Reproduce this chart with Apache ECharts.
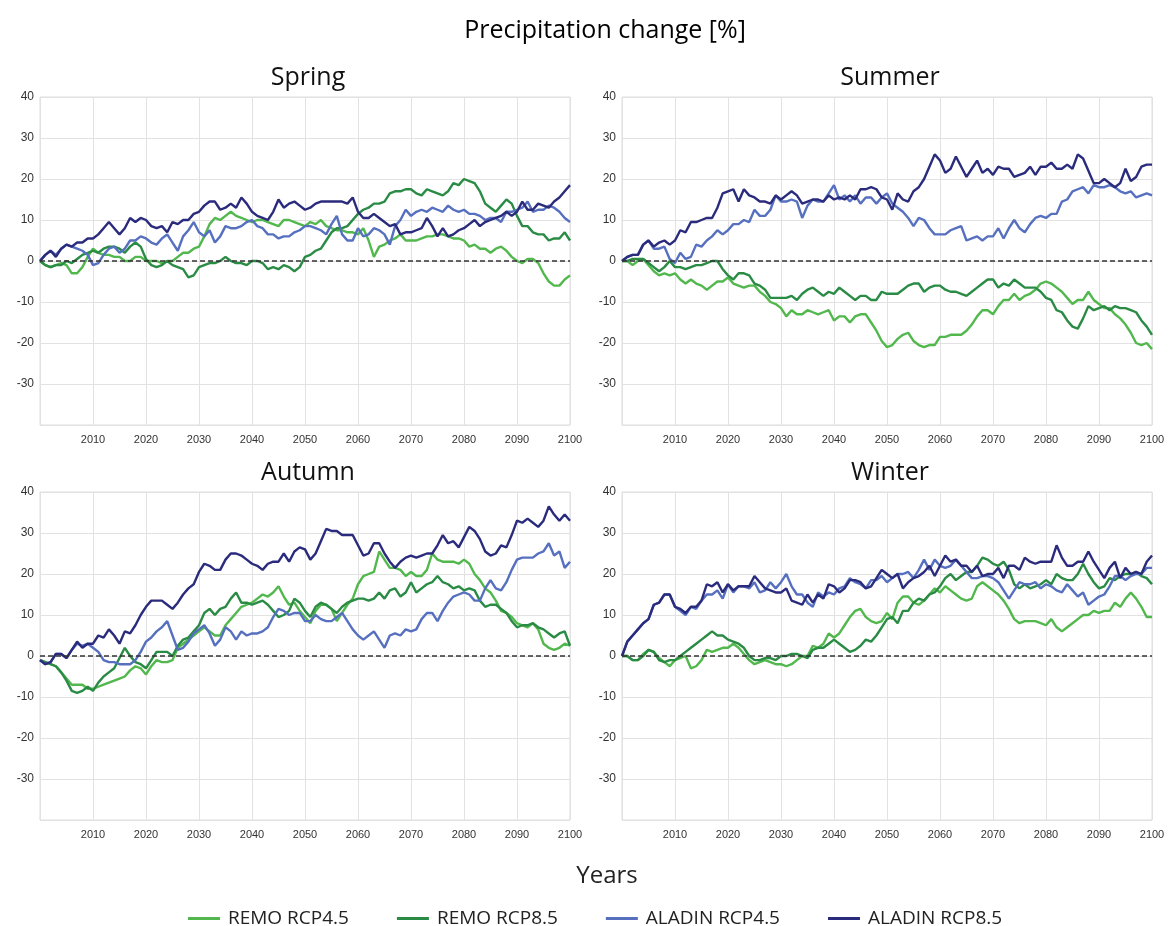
<!DOCTYPE html>
<html>
<head>
<meta charset="utf-8">
<script src="https://cdn.jsdelivr.net/npm/echarts@6/dist/echarts.min.js"></script>
<style>
  html, body { margin: 0; padding: 0; background: #fff; }
  #chart { width: 1169px; height: 926px; }
</style>
</head>
<body>
<div id="chart"></div>
<script>
// years 2000..2100, one value per year
var years = [];
for (var y = 2000; y <= 2100; y++) years.push(y);

var seriesNames = ['REMO RCP4.5', 'REMO RCP8.5', 'ALADIN RCP4.5', 'ALADIN RCP8.5'];
var seasonNames = ['Spring', 'Summer', 'Autumn', 'Winter'];
var xTicks = [2010, 2020, 2030, 2040, 2050, 2060, 2070, 2080, 2090, 2100];
var yTicks = [-30, -20, -10, 0, 10, 20, 30, 40];

// Spring
var springRemo45 = [0, -1, -1.5, -1, -0.5, -1, -3, -3, -1.5, 1,
  3, 2, 1.5, 1.5, 1, 1, 0, 0, 1, 1,
  0, 0, 0, -0.5, 0, 0, 1, 2, 2, 3,
  3.5, 6, 9, 10.5, 10, 11, 12, 11, 10.5, 10,
  9.5, 10, 10, 9.5, 9, 8.5, 10, 10, 9.5, 9,
  8.5, 9.5, 9, 10, 8.5, 8, 7.5, 7.5, 7, 7,
  6.5, 8, 5, 1, 3.5, 4, 5, 5.5, 6.5, 5,
  5, 5, 5.5, 6, 6, 6.5, 6.5, 6, 5.5, 5.5,
  5, 3.5, 4, 3, 3, 2, 3, 3.5, 2.5, 1,
  0, -0.5, 0.5, 0.5, -0.5, -3, -5, -6, -6, -4.5,
  -3.5];
var springRemo85 = [0, -1, -1.5, -1, -1, 0, -0.5, 0.5, 1.5, 2,
  2.5, 2, 3, 3.5, 3.5, 3, 2, 3.5, 4.5, 3.5,
  0.5, -1, -1.5, -1, 0, -1, -1.5, -2, -4, -3.5,
  -1.5, -1, -0.5, -0.5, 0, 1, 0, -0.5, -0.5, -1,
  0, 0, -0.5, -2, -1.5, -2, -1, -1.5, -2.5, -1.5,
  1, 1.5, 2.5, 3, 5, 7, 8, 8, 8.5, 10,
  11.5, 12.5, 13, 14, 14, 14.5, 16.5, 17, 17, 17.5,
  17.5, 16.5, 16, 17.5, 17, 16.5, 16, 17, 19, 18.5,
  20, 19.5, 19, 17, 14, 13, 12, 13.5, 15, 14,
  11, 8.5, 8.5, 7, 6.5, 6.5, 5, 5.5, 5.5, 7,
  5];
var springAladin45 = [0, 1.5, 2.5, 1.5, 3, 4, 3.5, 3, 2.5, 1.5,
  -1, -0.5, 1.5, 3, 3.5, 2, 3, 5, 5, 6,
  5.5, 4.5, 4, 5.5, 6.5, 4.5, 2.5, 6, 7.5, 9.5,
  7, 6, 7.5, 4.5, 6, 8.5, 8, 8, 8.5, 9.5,
  10, 8.5, 8, 6.5, 6.5, 5.5, 6, 6, 7, 7.5,
  8.5, 8.5, 8, 7.5, 6.5, 9, 11, 6.5, 5, 5,
  8, 6, 6.5, 8, 7.5, 6.5, 4, 8.5, 10, 12.5,
  11, 12, 12.5, 12, 13, 12.5, 12, 13.5, 12.5, 12,
  12.5, 11.5, 11.5, 11, 10, 10.5, 10.5, 9.5, 12, 12,
  12.5, 13, 14.5, 12, 12.5, 12.5, 13.5, 13, 12, 10.5,
  9.5];
var springAladin85 = [0, 1.5, 2.5, 1, 3, 4, 3.5, 4.5, 4.5, 5.5,
  5.5, 6.5, 8, 9.5, 8, 6.5, 8, 10.5, 9.5, 10.5,
  10, 8.5, 8, 8.5, 7, 9.5, 9, 10, 10, 11.5,
  12, 13.5, 14.5, 14.5, 12.5, 13, 14, 13, 15.5, 14,
  12, 11, 10.5, 10, 12, 15, 13, 14, 14.5, 13.5,
  12.5, 13, 14, 14.5, 14.5, 14.5, 14.5, 14.5, 14, 15.5,
  12, 10.5, 10.5, 11.5, 10.5, 9.5, 8.5, 9, 6.5, 7,
  7, 7.5, 8, 10.5, 8.5, 6, 8, 6, 6.5, 7.5,
  8, 9, 10, 8.5, 9.5, 10, 10.5, 11, 12, 11,
  12, 14.5, 12.5, 12.5, 14, 13.5, 13, 14.5, 15.5, 17,
  18.5];

// Summer
var summerRemo45 = [0, 0, -1, 0, 0.5, -1, -2.5, -3.5, -3, -3.5,
  -3, -4.5, -5.5, -4.5, -5.5, -6, -7, -6, -5, -5,
  -4, -5.5, -6, -6.5, -6, -6, -7.5, -8.5, -10, -10.5,
  -11.5, -13.5, -12, -13, -13, -12, -12.5, -13, -12.5, -12,
  -14.5, -13.5, -13.5, -15, -13.5, -13, -13, -15, -17, -19.5,
  -21, -20.5, -19, -18, -17.5, -19.5, -20.5, -21, -20.5, -20.5,
  -18.5, -18.5, -18, -18, -18, -17, -15.5, -13.5, -12, -12,
  -13, -11, -9.5, -9.5, -8, -9.5, -8.5, -8, -7, -5.5,
  -5, -5.5, -6.5, -7.5, -9, -10.5, -9.5, -9.5, -7.5, -9.5,
  -10.5, -11.5, -11.5, -13, -14, -15.5, -17.5, -20, -20.5, -20,
  -21.5];
var summerRemo85 = [0, 0, 0.5, 0.5, 0.5, -0.5, -1.5, -2.5, -1.5, 0,
  -1.5, -1.5, -2, -1.5, -1, -1, -0.5, 0, 0, -2,
  -3.5, -4.5, -3, -3, -3.5, -5.5, -6, -7, -9, -9,
  -9, -9, -8.5, -9.5, -8, -7, -6.5, -7.5, -8.5, -7.5,
  -8, -6.5, -7.5, -8.5, -9.5, -8.5, -8.5, -9.5, -9.5, -7.5,
  -8, -8, -8, -7, -6, -5.5, -5.5, -7.5, -6.5, -6,
  -6, -7, -7.5, -7.5, -8, -8.5, -7.5, -6.5, -5.5, -4.5,
  -4.5, -6.5, -5.5, -6, -4.5, -5.5, -6.5, -6.5, -6.5, -7.5,
  -9, -9.5, -12, -12.5, -14.5, -16, -16.5, -14, -11, -12,
  -11.5, -11, -12, -11, -11.5, -11.5, -12, -12.5, -14.5, -16,
  -18];
var summerAladin45 = [0, 1, 1.5, 1.5, 4, 5, 3, 3, 3.5, 0.5,
  -0.5, 2, 0.5, 1, 4, 3.5, 5, 6, 7.5, 6.5,
  7.5, 9, 9, 10, 9.5, 12.5, 11, 11, 12.5, 16,
  14.5, 14.5, 15, 14.5, 10.5, 13.5, 15, 14.5, 14.5, 16.5,
  18.5, 15, 16, 14.5, 16, 14, 15.5, 15.5, 14, 15.5,
  16.5, 14, 13, 12, 10.5, 8.5, 10.5, 10, 8, 6.5,
  6.5, 6.5, 7.5, 8, 8.5, 5, 5.5, 6, 5, 6,
  6, 8, 5.5, 8, 10, 8, 7, 9, 10.5, 11,
  10.5, 11.5, 11.5, 14.5, 15, 17, 17.5, 18, 16.5, 18.5,
  18, 18, 18.5, 18, 17, 16.5, 17, 15.5, 16, 16.5,
  16];
var summerAladin85 = [0, 1, 1.5, 1.5, 4, 5, 3.5, 4.5, 5, 4,
  5, 7.5, 7, 9.5, 9.5, 10, 10.5, 10.5, 13, 16.5,
  17, 17.5, 14.5, 17.5, 16, 15.5, 14.5, 14.5, 14, 16,
  15, 16, 17, 16, 14, 14.5, 15, 15, 14.5, 16,
  15, 15.5, 15, 16, 15, 17.5, 17.5, 18, 17.5, 15.5,
  15, 12.5, 16.5, 15, 14.5, 17, 18, 20, 23, 26,
  24.5, 21.5, 22.5, 25.5, 23, 20.5, 22.5, 24.5, 21.5, 22.5,
  21, 23, 22.5, 22.5, 20.5, 21, 21.5, 23, 21, 23,
  23, 24, 22.5, 22.5, 23.5, 22.5, 26, 25, 22, 19,
  19, 20, 19, 18, 19, 22.5, 19.5, 20.5, 23, 23.5,
  23.5];

// Autumn
var autumnRemo45 = [-1, -1.5, -2, -2.5, -4, -5.5, -7, -7, -7, -8,
  -8, -7.5, -7, -6.5, -6, -5.5, -5, -3.5, -2.5, -3,
  -4.5, -2.5, -1, -1.5, -1.5, -1, 2, 3, 4, 5,
  6, 7, 6, 5, 5, 7.5, 9, 10.5, 12, 12.5,
  13, 14, 15, 14.5, 15.5, 17, 14.5, 12.5, 13, 11,
  9.5, 8, 11, 12.5, 12.5, 11.5, 8.5, 10.5, 12.5, 14,
  17.5, 19.5, 20, 20.5, 25.5, 23.5, 21.5, 21.5, 21, 19.5,
  20.5, 19.5, 19.5, 21, 25, 23.5, 23, 23, 23, 22.5,
  23.5, 22.5, 20, 18.5, 16.5, 15.5, 13.5, 11, 10.5, 9.5,
  8, 7.5, 7, 8, 6.5, 3, 2, 1.5, 2, 3,
  2.5];
var autumnRemo85 = [-1, -1.5, -2, -2.5, -4, -6, -8.5, -9, -8.5, -7.5,
  -8.5, -6.5, -5, -4, -3, -0.5, 2, 0, -1.5, -2,
  -3, -1, 1, 1, 1, 0, 2.5, 4, 4.5, 6,
  7.5, 10.5, 11.5, 10, 11.5, 12, 14, 15.5, 13, 13,
  12.5, 13, 13.5, 12.5, 11, 9.5, 10, 11, 14, 13,
  11, 9.5, 12, 13, 12.5, 11.5, 10.5, 12, 13, 13.5,
  14, 14, 13.5, 14, 15.5, 14, 16, 16.5, 14.5, 15.5,
  18, 15.5, 16.5, 17.5, 18, 19.5, 18, 17.5, 16.5, 17,
  16, 16.5, 16, 13.5, 12, 12.5, 12.5, 11.5, 10.5, 8.5,
  7, 7.5, 7.5, 8, 7, 6.5, 5.5, 4.5, 5.5, 6,
  2.5];
var autumnAladin45 = [-1, -2, -1.5, 0.5, 0.5, -0.5, 1.5, 3, 2.5, 3,
  2, 1, -1, -1.5, -1.5, -2, -2, -2, -1, 1,
  3.5, 4.5, 6, 7, 8.5, 5, 1.5, 2, 3.5, 5.5,
  6.5, 7.5, 5.5, 2.5, 4, 7, 6, 4, 6, 5,
  5.5, 5.5, 6, 7, 9.5, 11.5, 11, 10, 10.5, 10.5,
  8.5, 8.5, 10, 9, 8.5, 8.5, 9.5, 10.5, 8.5, 6.5,
  5, 4, 5, 6, 4, 2, 5, 5.5, 5, 6.5,
  6, 6.5, 9, 10.5, 10.5, 8.5, 11, 13, 14.5, 15,
  15.5, 15, 13.5, 13.5, 16.5, 18.5, 16.5, 16, 18, 21,
  23.5, 24, 24, 24, 25, 25.5, 27.5, 24.5, 25.5, 21.5,
  23];
var autumnAladin85 = [-1, -2, -1.5, 0.5, 0.5, -0.5, 1.5, 3.5, 2, 3,
  3, 5, 4.5, 6.5, 5, 3, 6, 5.5, 7.5, 10,
  12, 13.5, 13.5, 13.5, 12.5, 11.5, 13, 15, 16.5, 17.5,
  20.5, 22.5, 22, 21, 21, 23.5, 25, 25, 24.5, 23.5,
  22.5, 22, 21, 22.5, 23, 23, 25, 23, 25.5, 26.5,
  26, 23.5, 25, 28, 31, 30.5, 30.5, 29.5, 29.5, 29.5,
  27, 24.5, 25, 27.5, 27.5, 25, 23, 21.5, 23, 24,
  24.5, 24, 24.5, 25, 25, 27, 29.5, 27.5, 28, 26.5,
  29, 31.5, 30.5, 28.5, 25.5, 24.5, 25, 27, 26.5, 29.5,
  33, 32.5, 33.5, 32.5, 31.5, 33, 36.5, 34.5, 33, 34.5,
  33];

// Winter
var winterRemo45 = [0, 0, -1, -1, 0.5, 1.5, 1, -0.5, -1.5, -2.5,
  -1, -0.5, 0, -3, -2.5, -1, 1.5, 1, 1.5, 2,
  2, 3, 2, 0.5, -1, -2, -1.5, -1, -1.5, -2,
  -2, -2.5, -2, -1, 0, 0, 2.5, 2, 3, 5.5,
  4.5, 5.5, 7.5, 9.5, 11, 11.5, 9.5, 8.5, 8, 8.5,
  10.5, 9, 13, 14.5, 14.5, 13, 12.5, 13.5, 15, 16.5,
  15.5, 17, 16, 15, 14, 13.5, 14, 17, 18, 17,
  16, 15, 13.5, 11.5, 9, 8, 8.5, 8.5, 8.5, 8,
  7.5, 9, 7, 6, 7, 8, 9, 10, 10, 11,
  10.5, 11, 11, 13, 12, 14, 15.5, 14, 12, 9.5,
  9.5];
var winterRemo85 = [0, 0, -1, -1, 0, 1.5, 1, -1, -1.5, -1,
  -1, 0, 1, 2, 3, 4, 5, 6, 5, 5,
  4, 3.5, 3, 2, 0, -1, -1, -0.5, -0.5, -1,
  0, 0, 0.5, 0.5, 0, -0.5, 1.5, 2, 2, 3,
  4, 3, 2, 1, 1.5, 2.5, 4, 3.5, 5, 7,
  9, 9.5, 8, 11, 11, 13, 14, 13.5, 15, 15.5,
  17, 19, 20, 18.5, 19.5, 20.5, 20.5, 22, 24, 23.5,
  22.5, 22, 23, 21, 17.5, 16.5, 17.5, 16.5, 17, 17.5,
  18.5, 17.5, 20, 19, 18.5, 18.5, 20, 22.5, 20, 18,
  16.5, 17, 19, 18.5, 19.5, 20, 20, 20.5, 19.5, 19,
  17.5];
var winterAladin45 = [0, 3.5, 5, 6.5, 8, 9, 12.5, 13, 15, 15,
  12, 11, 10, 12, 11.5, 13.5, 15, 15, 16, 14,
  17.5, 15.5, 17, 17, 16.5, 18, 15.5, 16, 18, 16.5,
  18, 20, 17, 15, 15, 13, 12, 15.5, 14.5, 15.5,
  15, 16.5, 17, 19, 18, 17.5, 16.5, 18.5, 18.5, 19.5,
  18, 19, 20, 20, 20.5, 19, 21, 23.5, 21, 23.5,
  22, 21.5, 22, 23.5, 22, 20.5, 19, 19, 19.5, 19.5,
  19, 18, 16, 14, 16, 18, 17.5, 17.5, 18, 16.5,
  17.5, 17, 16, 15.5, 17.5, 16, 14.5, 15.5, 12.5, 13.5,
  14.5, 15, 17, 19.5, 19.5, 18.5, 19.5, 20, 20, 21.5,
  21.5];
var winterAladin85 = [0, 3.5, 5, 6.5, 8, 9, 12.5, 13, 15, 15,
  12, 11.5, 10.5, 12, 12, 13.5, 17.5, 17, 18, 15.5,
  17.5, 16, 17, 17, 17, 19.5, 18, 16.5, 16, 15.5,
  15.5, 16.5, 13.5, 13, 12.5, 15, 13, 15, 14, 17.5,
  17, 15.5, 16.5, 18.5, 18.5, 18, 16.5, 17, 19, 21,
  20, 19, 20, 16.5, 18, 19, 19.5, 20.5, 22, 19.5,
  22, 24.5, 23, 23.5, 22, 22, 20.5, 22, 19.5, 20,
  20, 21.5, 19, 22, 22, 21, 24, 23, 22.5, 23,
  23, 23, 27, 24, 22, 22, 23, 23, 25.5, 23,
  21, 19, 21.5, 23, 19, 21.5, 20, 20.5, 20, 23,
  24.5];

var seasonData = [
  [springRemo45, springRemo85, springAladin45, springAladin85],
  [summerRemo45, summerRemo85, summerAladin45, summerAladin85],
  [autumnRemo45, autumnRemo85, autumnAladin45, autumnAladin85],
  [winterRemo45, winterRemo85, winterAladin45, winterAladin85]
];

var colors = ['#52b84e', '#2a8b45', '#5670bf', '#2a2b7c'];
var grids = [
  { left: 40, top: 97, width: 530, height: 328 },
  { left: 622, top: 97, width: 530, height: 328 },
  { left: 40, top: 492, width: 530, height: 328 },
  { left: 622, top: 492, width: 530, height: 328 }
];

var chart = echarts.init(document.getElementById('chart'));

var titles = [{
  text: 'Precipitation change [%]',
  left: 600, top: 13, textAlign: 'center',
  textStyle: { fontFamily: 'Open Sans', fontSize: 25, fontWeight: 'normal', color: '#000' }
}, {
  text: 'Years',
  left: 602, top: 859, textAlign: 'center',
  textStyle: { fontFamily: 'Open Sans', fontSize: 24, fontWeight: 'normal', color: '#222' }
}];
var xAxes = [], yAxes = [], series = [];

seasonNames.forEach(function (name, g) {
  var gr = grids[g];
  titles.push({
    text: name,
    left: gr.left + gr.width / 2 - 2, top: gr.top - 37, textAlign: 'center',
    textStyle: { fontFamily: 'Open Sans', fontSize: 25, fontWeight: 'normal', color: '#111' }
  });
  xAxes.push({
    type: 'value', gridIndex: g, min: 2000, max: 2100, interval: 10,
    axisLine: { show: false }, axisTick: { show: false },
    splitLine: { lineStyle: { color: '#e2e2e2' } },
    axisLabel: {
      color: '#333', fontSize: 11, fontFamily: 'Liberation Sans', margin: 9,
      formatter: function (v) { return xTicks.indexOf(v) >= 0 ? String(v) : ''; }
    }
  });
  yAxes.push({
    type: 'value', gridIndex: g, min: -40, max: 40, interval: 10,
    axisLine: { show: false }, axisTick: { show: false },
    splitLine: { lineStyle: { color: '#e2e2e2' } },
    axisLabel: {
      color: '#333', fontSize: 12, fontFamily: 'Liberation Sans', margin: 6,
      formatter: function (v) { return yTicks.indexOf(v) >= 0 ? String(v) : ''; }
    }
  });
  seasonData[g].forEach(function (vals, s) {
    var item = {
      name: seriesNames[s],
      type: 'line',
      xAxisIndex: g, yAxisIndex: g,
      symbol: 'none',
      color: colors[s],
      lineStyle: { width: 2.4, color: colors[s] },
      data: vals.map(function (v, i) { return [years[i], v]; })
    };
    if (s === 0) {
      item.markLine = {
        silent: true, symbol: 'none', label: { show: false },
        lineStyle: { type: [5, 3], color: '#333', width: 1.5 },
        data: [{ yAxis: 0 }]
      };
    }
    series.push(item);
  });
});

chart.setOption({
  animation: false,
  backgroundColor: '#fff',
  title: titles,
  grid: grids.map(function (gr) {
    return { left: gr.left, top: gr.top, width: gr.width, height: gr.height,
      show: true, borderColor: '#dcdcdc', borderWidth: 1 };
  }),
  legend: {
    data: seriesNames,
    top: 904, left: 183,
    icon: 'rect', itemWidth: 32, itemHeight: 3, itemGap: 48,
    textStyle: { fontFamily: 'Open Sans', fontSize: 19, color: '#222', padding: [0, 0, 0, 3] }
  },
  xAxis: xAxes,
  yAxis: yAxes,
  series: series
});
</script>
</body>
</html>
